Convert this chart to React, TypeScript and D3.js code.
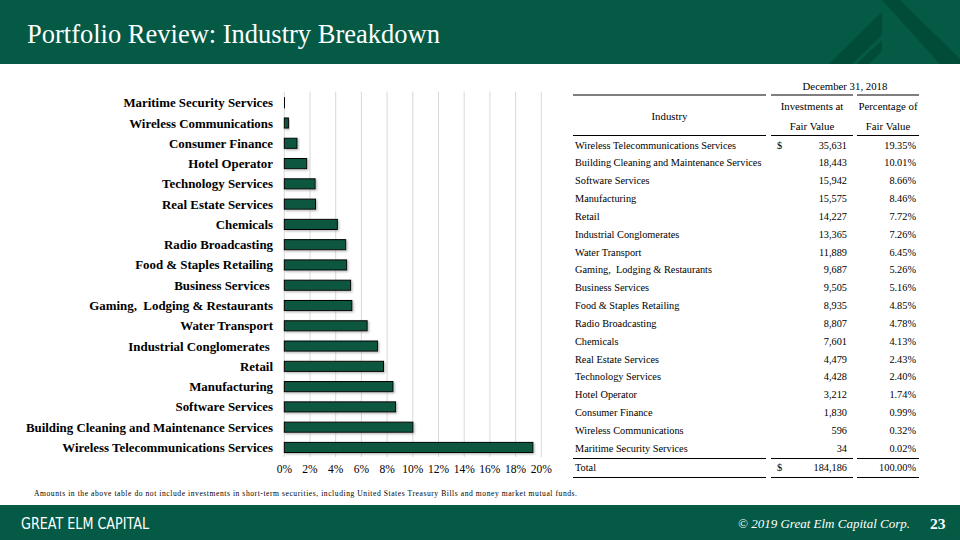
import * as React from "react"
import * as d3 from "d3"

const industries = [
  "Wireless Telecommunications Services",
  "Building Cleaning and Maintenance Services",
  "Software Services",
  "Manufacturing",
  "Retail",
  "Industrial Conglomerates",
  "Water Transport",
  "Gaming,  Lodging & Restaurants",
  "Business Services",
  "Food & Staples Retailing",
  "Radio Broadcasting",
  "Chemicals",
  "Real Estate Services",
  "Technology Services",
  "Hotel Operator",
  "Consumer Finance",
  "Wireless Communications",
  "Maritime Security Services",
]

// labels as they appear on the bar chart (some carry a trailing space)
const chartLabels = [
  "Wireless Telecommunications Services",
  "Building Cleaning and Maintenance Services",
  "Software Services",
  "Manufacturing",
  "Retail",
  "Industrial Conglomerates ",
  "Water Transport",
  "Gaming,  Lodging & Restaurants",
  "Business Services ",
  "Food & Staples Retailing",
  "Radio Broadcasting",
  "Chemicals",
  "Real Estate Services",
  "Technology Services",
  "Hotel Operator",
  "Consumer Finance",
  "Wireless Communications",
  "Maritime Security Services",
]

const fairValues = [
  35631, 18443, 15942, 15575, 14227, 13365, 11889, 9687, 9505, 8935, 8807, 7601, 4479, 4428, 3212, 1830,
  596, 34,
]

const pctValues = [
  19.35, 10.01, 8.66, 8.46, 7.72, 7.26, 6.45, 5.26, 5.16, 4.85, 4.78, 4.13, 2.43, 2.4, 1.74, 0.99, 0.32, 0.02,
]

const totalValue = 184186
const totalPct = 100

const xTicks = [0, 2, 4, 6, 8, 10, 12, 14, 16, 18, 20]

const GREEN = "#045a45"
const DARK = "#004c39"
const BAR = "#0c5641"
const SERIF = "'Liberation Serif', 'Times New Roman', serif"

export default function App() {
  const width = 960
  const height = 540

  const x = d3.scaleLinear().domain([0, 20]).range([284.3, 541.3])
  const y = d3
    .scaleBand<string>()
    .domain([...chartLabels].reverse())
    .range([92.6, 457.6])
    .paddingInner(0.5)
    .paddingOuter(0.25)

  const fmt = d3.format(",")
  const pct = (v: number) => d3.format(".2f")(v) + "%"

  // table layout
  const colInd = [573, 766]
  const colInv = [771, 853]
  const colPct = [857, 919]
  const segs = [colInd, colInv, colPct]
  const row = d3
    .scaleLinear()
    .domain([0, industries.length - 1])
    .range([148.6, 451.8])
  const rowStep = row(1) - row(0)

  return (
    <svg
      width={width}
      height={height}
      viewBox={`0 0 ${width} ${height}`}
      style={{ position: "absolute", left: 0, top: 0, background: "#fff" }}
    >
      <defs>
        <filter id="sh" x="-10%" y="-30%" width="130%" height="190%">
          <feDropShadow dx="1.2" dy="1.2" stdDeviation="0.8" floodColor="#777" floodOpacity="0.55" />
        </filter>
      </defs>

      {/* header */}
      <rect x={0} y={0} width={width} height={64} fill={GREEN} />
      <polygon points="829,64 852,64 882,35 882,12" fill={DARK} />
      <polygon points="882,0 900,0 961,60 961,64 940,64" fill={DARK} />
      <polygon points="857,64 869,64 882,51 882,40" fill={DARK} />
      <text x={27} y={43} fill="#fff" fontFamily={SERIF} fontSize={26.5}>
        Portfolio Review: Industry Breakdown
      </text>

      {/* grid */}
      {xTicks.map((t) => (
        <line key={t} x1={x(t)} x2={x(t)} y1={91.5} y2={457} stroke="#d9d9d9" strokeWidth={1} />
      ))}

      {/* bars */}
      {chartLabels.map((c, i) => (
        <rect
          key={c}
          x={x(0)}
          y={y(c)!}
          width={x(pctValues[i]) - x(0)}
          height={y.bandwidth()}
          fill={BAR}
          stroke="#000"
          strokeWidth={1}
          filter="url(#sh)"
        />
      ))}

      {/* category labels */}
      {chartLabels.map((c) => (
        <text
          key={c}
          x={273}
          y={y(c)! + y.bandwidth() / 2}
          dy="0.35em"
          textAnchor="end"
          fontFamily={SERIF}
          fontWeight="bold"
          fontSize={12.9}
          fill="#000"
          style={{ whiteSpace: "pre" }}
        >
          {c}
        </text>
      ))}

      {/* x tick labels */}
      {xTicks.map((t) => (
        <text
          key={t}
          x={x(t)}
          y={473}
          textAnchor="middle"
          fontFamily={SERIF}
          fontSize={11.5}
          fill="#000"
        >
          {t}%
        </text>
      ))}

      {/* table header */}
      <g fontFamily={SERIF} fontSize={10.8} fill="#000">
        <text x={(colInv[0] + colPct[1]) / 2} y={90} textAnchor="middle">
          December 31, 2018
        </text>
        <text x={(colInd[0] + colInd[1]) / 2} y={120} textAnchor="middle">
          Industry
        </text>
        <text x={(colInv[0] + colInv[1]) / 2} y={110} textAnchor="middle">
          Investments at
        </text>
        <text x={(colInv[0] + colInv[1]) / 2} y={130} textAnchor="middle">
          Fair Value
        </text>
        <text x={(colPct[0] + colPct[1]) / 2} y={110} textAnchor="middle">
          Percentage of
        </text>
        <text x={(colPct[0] + colPct[1]) / 2} y={130} textAnchor="middle">
          Fair Value
        </text>
      </g>
      {[95, 135.5, 458.5, 477.5].map((ly) =>
        segs.map((s, j) => (
          <line key={`${ly}-${j}`} x1={s[0]} x2={s[1]} y1={ly} y2={ly} stroke="#000" strokeWidth={1.2} />
        ))
      )}

      {/* table rows */}
      <g fontFamily={SERIF} fontSize={10.3} fill="#000">
        {industries.map((ind, i) => (
          <g key={ind}>
            <text x={575} y={row(i)} style={{ whiteSpace: "pre" }}>
              {ind}
            </text>
            {i === 0 && (
              <text x={777} y={row(i)}>
                $
              </text>
            )}
            <text x={847} y={row(i)} textAnchor="end">
              {fmt(fairValues[i])}
            </text>
            <text x={916} y={row(i)} textAnchor="end">
              {pct(pctValues[i])}
            </text>
          </g>
        ))}
        <text x={575} y={row(industries.length - 1) + rowStep + 1}>
          Total
        </text>
        <text x={777} y={row(industries.length - 1) + rowStep + 1}>
          $
        </text>
        <text x={847} y={row(industries.length - 1) + rowStep + 1} textAnchor="end">
          {fmt(totalValue)}
        </text>
        <text x={916} y={row(industries.length - 1) + rowStep + 1} textAnchor="end">
          {pct(totalPct)}
        </text>
      </g>

      {/* footnote */}
      <text x={34} y={496} fontFamily={SERIF} fontSize={7.6} fill="#000" textLength={543} lengthAdjust="spacing">
        Amounts in the above table do not include investments in short-term securities, including United States
        Treasury Bills and money market mutual funds.
      </text>

      {/* footer */}
      <rect x={0} y={505} width={width} height={35} fill={GREEN} />
      <text
        x={21}
        y={529}
        fill="#fff"
        fontFamily="'DejaVu Sans Condensed', 'DejaVu Sans', sans-serif"
        fontSize={16}
        textLength={128}
        lengthAdjust="spacingAndGlyphs"
      >
        GREAT ELM CAPITAL
      </text>
      <text x={910} y={528} textAnchor="end" fill="#fff" fontFamily={SERIF} fontStyle="italic" fontSize={13}>
        © 2019 Great  Elm  Capital Corp.
      </text>
      <text x={930} y={529} fill="#fff" fontFamily={SERIF} fontWeight="bold" fontSize={15.5}>
        23
      </text>
    </svg>
  )
}
